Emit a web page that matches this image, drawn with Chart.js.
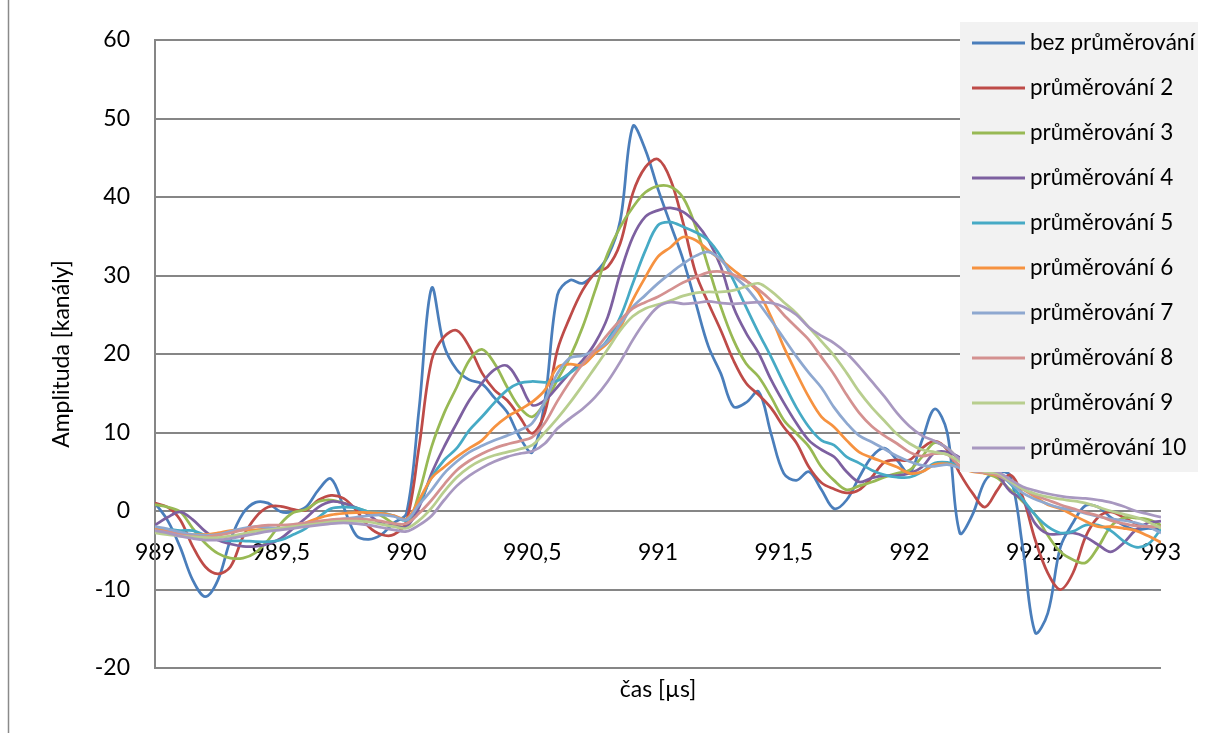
<!DOCTYPE html>
<html>
<head>
<meta charset="utf-8">
<script src="https://cdn.jsdelivr.net/npm/chart.js@4.4.0/dist/chart.umd.min.js"></script>
<style>
  html, body { margin: 0; padding: 0; background: #fff; }
  #wrap { width: 1209px; height: 733px; }
</style>
</head>
<body>
<div id="wrap"><canvas id="signal" width="1209" height="733"></canvas></div>
<script>
// time axis, sample step 0.05 µs
const casUs = [
  989.00, 989.05, 989.10, 989.15, 989.20, 989.25, 989.30, 989.35, 989.40, 989.45,
  989.50, 989.55, 989.60, 989.65, 989.70, 989.75, 989.80, 989.85, 989.90, 989.95,
  990.00, 990.05, 990.10, 990.15, 990.20, 990.25, 990.30, 990.35, 990.40, 990.45,
  990.50, 990.55, 990.60, 990.65, 990.70, 990.75, 990.80, 990.85, 990.90, 990.95,
  991.00, 991.05, 991.10, 991.15, 991.20, 991.25, 991.30, 991.35, 991.40, 991.45,
  991.50, 991.55, 991.60, 991.65, 991.70, 991.75, 991.80, 991.85, 991.90, 991.95,
  992.00, 992.05, 992.10, 992.15, 992.20, 992.25, 992.30, 992.35, 992.40, 992.45,
  992.50, 992.55, 992.60, 992.65, 992.70, 992.75, 992.80, 992.85, 992.90, 992.95,
  993.00
];

const bezPrumerovani = [
  1.0, -1.2, -4.6, -8.8, -10.9, -8.8, -3.7, -0.3, 1.1, 1.0,
  -0.1, -0.1, 0.5, 2.7, 4.1, 0.5, -3.1, -3.6, -3.0, -1.5,
  -0.3, 13.0, 28.4, 21.0, 18.0, 16.7, 16.2, 14.4, 12.6, 9.4,
  7.5, 14.0, 27.5, 29.4, 29.0, 30.3, 32.4, 37.0, 49.0, 46.0,
  41.0, 36.5, 32.0, 26.5, 21.0, 17.5, 13.3, 13.8, 15.2, 9.8,
  4.8, 3.9, 5.0, 2.7, 0.3, 1.4, 4.3, 6.9, 8.0, 6.5,
  4.8, 9.0, 13.0, 10.0, -2.8, -0.5, 3.8, 5.0, 4.5, -4.6,
  -15.5, -13.0, -4.6, -1.5, 0.7, 0.5, -0.8, -1.8, -2.4, -2.2,
  -2.4
];
const prumerovani2 = [
  1.0, 0.5, -1.1, -4.5, -7.1, -8.0, -7.1, -3.3, -0.8, 0.5,
  0.6, 0.2, 0.1, 1.4, 2.0, 1.6, 0.1, -2.0, -3.0, -3.0,
  -1.3, 8.2, 19.2, 22.2, 23.0, 20.9, 17.6, 15.4, 14.1, 12.0,
  9.9, 12.5, 20.5, 24.7, 28.1, 30.3, 31.1, 34.1, 40.5, 43.8,
  44.8, 42.2, 36.7, 30.3, 26.5, 23.0, 19.2, 16.3, 14.8, 13.1,
  10.7, 8.7, 5.6, 3.6, 2.8, 2.3, 2.7, 4.3, 6.2, 6.5,
  6.5, 8.0, 8.9, 7.8, 4.8, 2.3, 0.5, 2.7, 4.6, 1.8,
  -3.7, -7.9, -10.0, -7.9, -3.3, -0.8, -0.1, -0.8, -1.6, -2.0,
  -2.0
];
const prumerovani3 = [
  0.8, 0.5, -0.1, -2.2, -4.1, -5.4, -6.0, -6.0, -5.3, -3.7,
  -1.6, -0.2, 0.2, 1.2, 1.4, 1.0, 0.4, -0.1, -0.6, -1.6,
  -2.0, 2.3, 8.2, 12.5, 15.8, 19.2, 20.6, 18.8, 15.8, 13.2,
  12.0, 13.8, 16.7, 19.6, 23.4, 28.1, 32.8, 36.2, 38.7, 40.6,
  41.4, 41.3, 39.9, 36.2, 31.1, 26.0, 21.8, 18.8, 17.1, 14.5,
  11.6, 9.9, 8.2, 5.6, 3.9, 2.7, 3.2, 3.7, 4.3, 4.8,
  5.2, 6.9, 8.7, 8.0, 6.5, 5.5, 4.8, 4.2, 2.7, 1.2,
  -0.5, -3.1, -5.2, -6.2, -6.6, -4.6, -2.0, -0.9, -0.9, -1.1,
  -1.8
];
const prumerovani4 = [
  -1.8, -0.8, -0.1, -1.1, -2.6, -3.7, -4.2, -4.5, -4.5, -4.2,
  -3.5, -2.2, -0.9, 0.5, 1.2, 1.0, 0.4, -0.5, -1.6, -1.9,
  -2.0, 0.5, 4.8, 8.2, 11.2, 14.1, 16.3, 18.0, 18.5, 16.3,
  13.5, 14.1, 15.8, 17.6, 19.2, 21.4, 24.7, 30.3, 34.9, 37.5,
  38.3, 38.6, 38.1, 36.7, 34.5, 31.1, 26.0, 22.7, 20.1, 16.7,
  13.8, 11.2, 9.0, 7.8, 6.9, 5.0, 3.7, 4.2, 4.5, 4.5,
  4.8, 5.6, 7.4, 7.5, 6.8, 5.5, 5.0, 4.5, 2.5, 1.4,
  -1.6, -2.9, -2.9, -2.8, -3.3, -4.3, -5.2, -4.1, -2.4, -1.5,
  -1.3
];
const prumerovani5 = [
  -2.3, -2.3, -2.5, -2.5, -3.1, -3.6, -3.8, -3.8, -3.9, -3.9,
  -3.7, -3.0, -2.2, -0.8, 0.3, 0.5, 0.4, -0.1, -0.2, -0.6,
  -1.2, 1.0, 4.3, 6.5, 8.0, 10.3, 12.0, 13.8, 15.4, 16.3,
  16.5, 16.4, 16.6, 17.6, 18.8, 20.1, 21.8, 24.7, 29.0, 33.2,
  36.4, 36.8, 36.2, 35.5, 34.5, 32.4, 29.4, 26.0, 22.7, 19.6,
  16.3, 13.2, 10.7, 9.0, 8.4, 6.9, 6.1, 5.2, 4.6, 4.3,
  4.3, 5.0, 6.1, 6.2, 5.8, 5.3, 5.0, 4.7, 3.5, 1.5,
  -0.5, -2.0, -2.8, -2.6, -1.8, -1.8, -2.5, -3.8, -4.6, -4.2,
  -2.3
];
const prumerovani6 = [
  -2.3, -2.5, -2.8, -3.0, -3.0, -2.8, -2.5, -2.4, -2.4, -2.3,
  -2.3, -2.0, -1.5, -0.9, -0.5, -0.3, -0.2, -0.2, -0.3, -0.6,
  -1.0, 1.4, 4.2, 5.6, 6.9, 8.0, 9.0, 10.7, 12.0, 12.9,
  13.9, 15.4, 18.3, 18.7, 18.6, 20.1, 21.4, 23.4, 26.9, 29.8,
  32.4, 33.6, 34.9, 34.5, 33.2, 32.0, 30.7, 29.4, 27.8, 24.7,
  20.9, 17.6, 14.5, 12.0, 10.7, 9.0, 7.5, 6.8, 6.2, 5.6,
  4.8, 5.0, 5.9, 6.0, 5.5, 5.0, 4.8, 4.5, 3.8, 2.8,
  1.8, 0.8, 0.3, -0.5, -1.3, -2.0, -2.0, -2.2, -2.5, -3.2,
  -4.0
];
const prumerovani7 = [
  -2.0, -2.3, -2.7, -3.0, -3.1, -3.0, -2.6, -2.2, -2.0, -2.1,
  -2.2, -2.0, -1.7, -1.4, -1.2, -1.0, -0.8, -0.6, -0.5, -0.7,
  -1.1, 0.8, 2.7, 4.8, 6.3, 7.5, 8.3, 9.0, 9.6, 10.3,
  11.2, 14.0, 17.5, 19.5, 19.8, 20.5, 21.6, 23.8, 26.0, 27.5,
  29.0, 30.3, 31.5, 32.5, 33.0, 32.0, 30.0, 28.5, 26.5, 24.3,
  22.0, 19.7, 17.6, 15.7, 13.2, 11.2, 9.6, 8.8, 7.9, 7.0,
  6.3, 5.8, 5.7, 5.9, 5.5, 5.1, 4.9, 4.6, 3.6, 2.3,
  1.5, 0.9, 0.4, 0.1, -0.3, -0.7, -1.0, -1.2, -1.5, -2.0,
  -2.8
];
const prumerovani8 = [
  -2.5, -2.7, -3.0, -3.2, -3.3, -3.1, -2.8, -2.4, -2.0, -1.8,
  -1.8, -1.7, -1.5, -1.3, -1.1, -1.0, -1.0, -1.1, -1.3, -1.6,
  -1.6, -0.3, 1.4, 3.4, 5.2, 6.4, 7.3, 8.0, 8.5, 8.9,
  9.4, 11.2, 14.0, 16.5, 18.7, 20.5, 22.5, 24.3, 25.8, 26.6,
  27.3, 28.2, 29.1, 29.8, 30.4, 30.5, 30.1, 29.3, 28.2, 26.8,
  25.0, 23.4, 21.8, 19.6, 17.4, 14.8, 12.5, 10.8, 9.6, 8.6,
  7.5, 7.0, 7.3, 7.2, 5.8, 5.2, 4.9, 4.6, 3.8, 2.8,
  2.0, 1.4, 0.8, 0.3, -0.2, -0.6, -1.2, -1.6, -1.9, -2.0,
  -2.0
];
const prumerovani9 = [
  -2.8, -3.0, -3.2, -3.3, -3.4, -3.4, -3.2, -2.9, -2.6, -2.4,
  -2.2, -2.0, -1.8, -1.6, -1.4, -1.3, -1.3, -1.4, -1.7, -2.0,
  -2.2, -1.2, 0.4, 2.5, 4.3, 5.6, 6.5, 7.1, 7.5, 7.9,
  8.4, 10.0, 11.8, 13.8, 16.0, 18.3, 20.6, 23.0, 24.8, 25.8,
  26.3, 26.8, 27.4, 27.8, 27.9, 27.9, 28.1, 28.6, 29.0, 28.0,
  26.6, 25.2, 23.4, 21.6, 19.8, 17.6, 15.2, 13.2, 11.5, 9.8,
  8.6, 7.8, 7.5, 7.2, 6.3, 5.5, 5.0, 4.8, 3.8, 2.8,
  2.2, 1.8, 1.5, 1.3, 1.0, 0.5, 0.0, -0.4, -0.8, -1.4,
  -2.2
];
const prumerovani10 = [
  -2.5, -2.8, -3.2, -3.5, -3.7, -3.7, -3.5, -3.2, -2.9, -2.6,
  -2.4, -2.2, -2.0, -1.8, -1.6, -1.5, -1.6, -1.8, -2.1, -2.4,
  -2.6, -1.8, -0.6, 1.4, 3.2, 4.5, 5.5, 6.3, 6.9, 7.3,
  7.6, 8.6, 10.5, 11.8, 13.0, 14.5, 16.5, 19.0, 21.8, 24.2,
  26.0, 26.6, 26.4, 26.5, 26.7, 26.5, 26.4, 26.5, 26.6, 26.5,
  26.0, 25.0, 23.4, 22.3, 21.4, 20.1, 18.4, 16.5, 14.6, 12.5,
  10.8, 9.6, 8.9, 8.0, 6.6, 5.6, 5.3, 5.0, 4.0, 3.1,
  2.6, 2.2, 1.9, 1.7, 1.6, 1.4, 1.1, 0.6, 0.0, -0.4,
  -0.8
];

const seriesNames = [
  'bez průměrování', 'průměrování 2', 'průměrování 3', 'průměrování 4', 'průměrování 5',
  'průměrování 6', 'průměrování 7', 'průměrování 8', 'průměrování 9', 'průměrování 10'
];
const seriesColors = [
  '#4A7EBB', '#BE4B48', '#98B954', '#7D60A0', '#46AAC5',
  '#F69240', '#8EA8D0', '#D49190', '#B8CE8E', '#A898C0'
];
const xTickValues = [989, 989.5, 990, 990.5, 991, 991.5, 992, 992.5, 993];
const yTickValues = [-20, -10, 0, 10, 20, 30, 40, 50, 60];

const allSeries = [
  bezPrumerovani, prumerovani2, prumerovani3, prumerovani4, prumerovani5,
  prumerovani6, prumerovani7, prumerovani8, prumerovani9, prumerovani10
];

const FONT = 'Lato';
const GRID = '#868686';

// gray legend panel sitting over the right part of the plot
const legendPanel = {
  id: 'legendPanel',
  afterDraw(chart) {
    const ctx = chart.ctx;
    ctx.save();
    ctx.fillStyle = '#F2F2F2';
    ctx.fillRect(960, 22, 238, 450);
    ctx.font = '22.5px ' + FONT;
    ctx.textBaseline = 'middle';
    ctx.textAlign = 'left';
    chart.data.datasets.forEach((ds, i) => {
      const y = 43 + i * 45;
      ctx.strokeStyle = ds.borderColor;
      ctx.lineWidth = 3;
      ctx.beginPath();
      ctx.moveTo(972, y);
      ctx.lineTo(1025, y);
      ctx.stroke();
      ctx.fillStyle = '#000';
      ctx.fillText(ds.label, 1030, y);
    });
    ctx.restore();
  }
};

// x axis title under the plot and the frame edge on the left
const extras = {
  id: 'extras',
  afterDraw(chart) {
    const ctx = chart.ctx;
    const area = chart.chartArea;
    ctx.save();
    ctx.fillStyle = '#000';
    ctx.font = '23px ' + FONT;
    ctx.textAlign = 'center';
    ctx.textBaseline = 'middle';
    ctx.fillText('čas [µs]', (area.left + area.right) / 2, 690);
    ctx.strokeStyle = '#8A8A8A';
    ctx.lineWidth = 1.5;
    ctx.beginPath();
    ctx.moveTo(8.5, 0);
    ctx.lineTo(8.5, 733);
    ctx.stroke();
    ctx.restore();
  }
};

new Chart(document.getElementById('signal'), {
  type: 'line',
  data: {
    datasets: allSeries.map((vals, i) => ({
      label: seriesNames[i],
      data: vals.map((v, k) => ({ x: casUs[k], y: v })),
      borderColor: seriesColors[i],
      backgroundColor: seriesColors[i],
      borderWidth: 2.75,
      pointRadius: 0,
      tension: 0.35,
      fill: false,
      order: allSeries.length - i
    }))
  },
  options: {
    responsive: false,
    animation: false,
    layout: { padding: { left: 0, right: 46, top: 40, bottom: 65 } },
    plugins: {
      legend: { display: false },
      tooltip: { enabled: false }
    },
    scales: {
      x: {
        type: 'linear',
        min: 989,
        max: 993,
        position: { y: 0 },
        afterBuildTicks: s => { s.ticks = xTickValues.map(v => ({ value: v })); },
        grid: { display: false, drawTicks: false },
        border: { display: false },
        ticks: {
          padding: 28,
          color: '#000',
          font: { family: FONT, size: 23 },
          maxRotation: 0,
          autoSkip: false,
          callback: v => String(v).replace('.', ',')
        }
      },
      y: {
        min: -20,
        max: 60,
        afterBuildTicks: s => { s.ticks = yTickValues.map(v => ({ value: v })); },
        afterFit: s => { s.width = 155; },
        grid: { color: GRID, lineWidth: 2, drawTicks: false },
        border: { display: true, color: GRID, width: 2 },
        ticks: {
          padding: 25,
          color: '#000',
          font: { family: FONT, size: 23 }
        },
        title: {
          display: true,
          text: 'Amplituda [kanály]',
          color: '#000',
          font: { family: FONT, size: 23 },
          padding: { top: 48 }
        }
      }
    }
  },
  plugins: [legendPanel, extras]
});
</script>
</body>
</html>
